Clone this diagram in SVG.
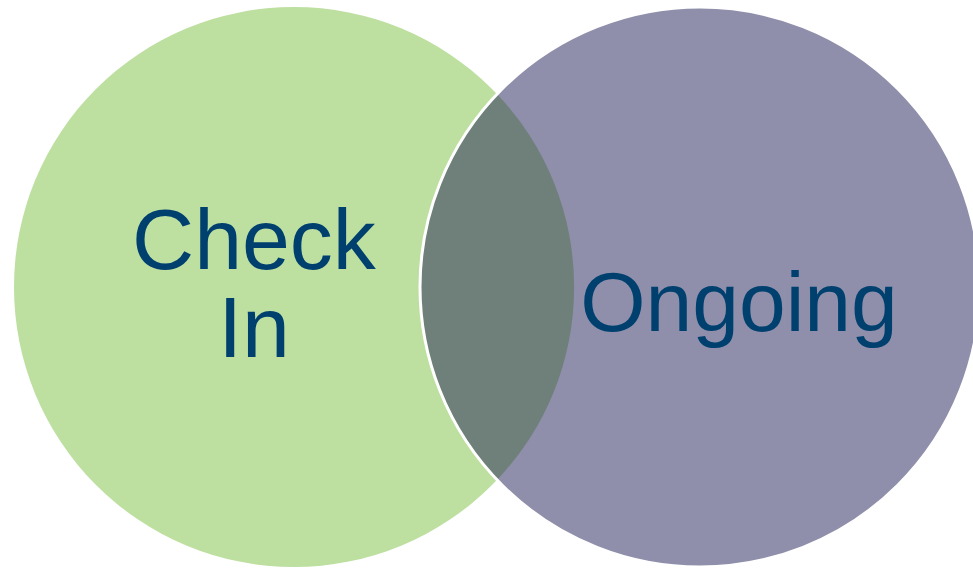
<svg xmlns="http://www.w3.org/2000/svg" width="973" height="569" viewBox="0 0 973 569">
<style>
.lbl{font-family:"Liberation Sans",Arial,sans-serif;fill:#00406f;text-anchor:middle}
</style>
<rect width="973" height="569" fill="#ffffff"/>
<g id="check-in">
<circle cx="294" cy="287" r="280" fill="#bddfa0"/>
<text class="lbl" x="254" y="269" font-size="86">Check</text>
<text class="lbl" x="254" y="357" font-size="86">In</text>
</g>
<g id="ongoing">
<circle cx="700" cy="287" r="280" fill="#8f8fab"/>
<path d="M497,94 A280,280 0 0 1 497,480 A280,280 0 0 1 497,94 Z" fill="#6f807b"/>
<circle cx="700" cy="287" r="280" fill="none" stroke="#ffffff" stroke-width="3"/>
<text class="lbl" x="739" y="331" font-size="84">Ongoing</text>
</g>
<g id="connectors"/>
</svg>
